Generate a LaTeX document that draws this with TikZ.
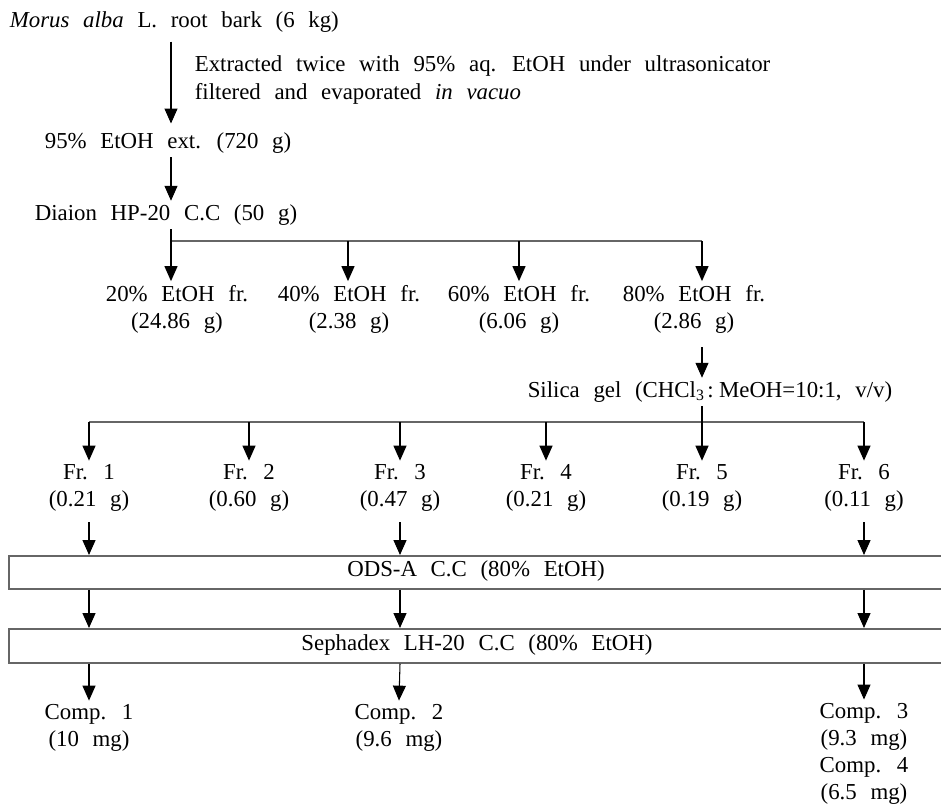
\documentclass[tikz,border=0pt]{standalone}
\usepackage{fontspec}
\setmainfont{Liberation Serif}[WordSpace=2.4]
\usetikzlibrary{arrows.meta,positioning}
\tikzset{
  txt/.style={inner sep=2pt, font=\fontsize{13}{15.4}\selectfont, align=center},
  note/.style={txt, align=left},
  arrow/.style={line width=0.6pt, ->},
  bus/.style={line width=1pt, black!60},
  colbox/.style={draw=black!60, line width=1pt, inner sep=0pt,
    minimum width=18.76cm, font=\fontsize{13}{15.4}\selectfont}
}

\begin{document}
\begin{tikzpicture}[x=0.02cm, y=-0.02cm, >={Triangle[width=7.4pt,length=8.5pt]}]
\useasboundingbox (0,0) rectangle (941,805);
\clip (0,0) rectangle (941,805);

% extraction
\node[txt, anchor=west] (src) at (6,22) {\textit{Morus alba} L. root bark (6 kg)};
\node[note, anchor=west] (cond) at (191,80) {Extracted twice with 95\% aq. EtOH under ultrasonicator\\filtered and evaporated \textit{in vacuo}};
\node[txt, anchor=west] (ext) at (41,143) {95\% EtOH ext. (720 g)};
\node[txt, anchor=west] (dia) at (31,215) {Diaion HP-20 C.C (50 g)};
\coordinate (spine) at (171,0);

\draw[arrow, shorten <=3pt, shorten >=3pt] (src.south -| spine) -- (ext.north -| spine);
\draw[arrow] (ext.south -| spine) -- (dia.north -| spine);

% Diaion fractions
\node[txt] (fr20) at (177,309) {20\% EtOH fr.\\(24.86 g)};
\node[txt] (fr40) at (349,309) {40\% EtOH fr.\\(2.38 g)};
\node[txt] (fr60) at (519,309) {60\% EtOH fr.\\(6.06 g)};
\node[txt] (fr80) at (694,309) {80\% EtOH fr.\\(2.86 g)};
\coordinate (d1) at (171,241);
\coordinate (d2) at (348,241);
\coordinate (d3) at (519,241);
\coordinate (d4) at (702,241);

\draw[bus] (d1) -- (d4);
\draw[arrow] (dia.south -| d1) -- (fr20.north -| d1);
\foreach \c/\f in {d2/fr40, d3/fr60, d4/fr80}
  \draw[arrow] (\c) -- (\f.north -| \c);

% silica gel
\node[txt] (sil) at (710,392) {Silica gel (CHCl\raisebox{-1.5pt}{\fontsize{9}{9}\selectfont 3}\hspace{2pt}:\hspace{3pt}MeOH=10:1, v/v)};
\draw[arrow, shorten <=6pt] (fr80.south -| d4) -- (sil.north -| d4);

\node[txt] (f1) at (89,488) {Fr. 1\\(0.21 g)};
\node[txt] (f2) at (249,488) {Fr. 2\\(0.60 g)};
\node[txt] (f3) at (400,488) {Fr. 3\\(0.47 g)};
\node[txt] (f4) at (546,488) {Fr. 4\\(0.21 g)};
\node[txt] (f5) at (702,488) {Fr. 5\\(0.19 g)};
\node[txt] (f6) at (864,488) {Fr. 6\\(0.11 g)};
\coordinate (s1) at (89,422);
\coordinate (s6) at (864,422);

\draw[bus] (s1) -- (s6);
\draw[arrow] (sil.south -| d4) -- (f5.north -| d4);
\foreach \f in {f1, f2, f3, f4, f6}
  \draw[arrow] (s1 -| \f) -- (\f.north);

% column steps
\node[colbox, minimum height=0.66cm, anchor=north west] (ods) at (8,555) {};
\node[txt] (odst) at (476,571) {ODS-A C.C (80\% EtOH)};
\node[colbox, minimum height=0.68cm, anchor=north west] (seph) at (8,628) {};
\node[txt] (sepht) at (477,645) {Sephadex LH-20 C.C (80\% EtOH)};

\node[txt] (c1) at (89,728) {Comp. 1\\(10 mg)};
\node[txt] (c2) at (399,728) {Comp. 2\\(9.6 mg)};
\node[txt] (c3) at (864,754) {Comp. 3\\(9.3 mg)\\Comp. 4\\(6.5 mg)};

\foreach \f/\c in {f1/c1, f3/c2, f6/c3} {
  \draw[arrow, shorten <=4pt] (\f.south) -- (ods.north -| \f);
  \draw[arrow] (ods.south -| \f) -- (seph.north -| \f);
  \draw[arrow] (seph.south -| \f) -- (\c.north);
}
\end{tikzpicture}
\end{document}
